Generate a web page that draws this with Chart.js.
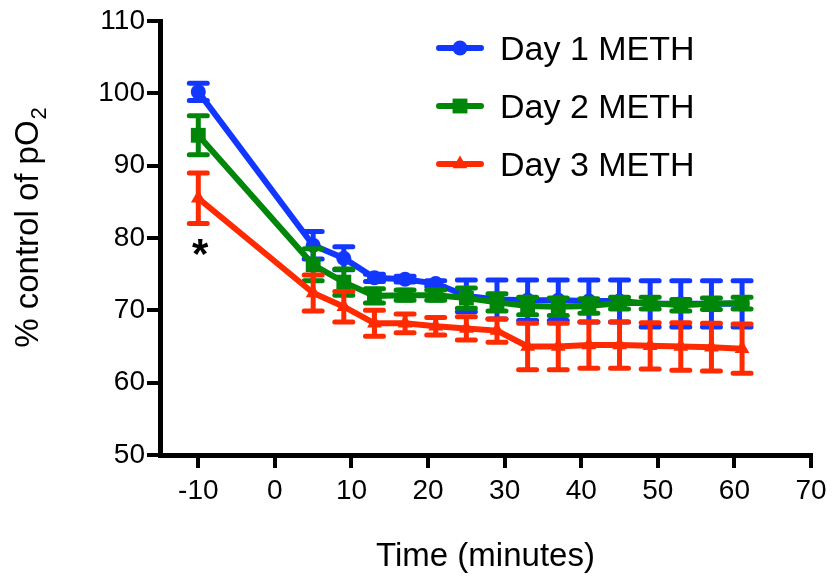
<!DOCTYPE html>
<html>
<head>
<meta charset="utf-8">
<title>pO2 after METH</title>
<script src="https://cdn.jsdelivr.net/npm/chart.js@4.4.1/dist/chart.umd.min.js"></script>
<style>
  html, body { margin: 0; padding: 0; background: #fff; }
  #wrap { width: 836px; height: 587px; }
</style>
</head>
<body>
<div id="wrap"><canvas id="po2Chart" width="836" height="587"></canvas></div>
<script>
// sampling times (minutes relative to injection)
const minutes = [-10, 5, 9, 13, 17, 21, 25, 29, 33, 37, 41, 45, 49, 53, 57, 61];

// % of control pO2, mean and SEM per day
const day1Mean = [100.2, 79.0, 77.2, 74.5, 74.3, 73.7, 72.0, 71.5, 71.4, 71.4, 71.3, 71.3, 70.9, 70.9, 70.9, 70.9];
const day1Sem  = [1.2, 1.9, 1.6, 0.5, 0.4, 0.4, 2.2, 2.7, 2.8, 2.8, 2.9, 2.9, 3.2, 3.2, 3.2, 3.2];
const day2Mean = [94.2, 76.3, 73.9, 72.0, 72.1, 72.1, 71.7, 71.1, 70.6, 70.5, 70.6, 71.0, 71.0, 70.7, 70.9, 71.0];
const day2Sem  = [2.7, 2.2, 1.8, 1.0, 0.7, 0.7, 1.4, 1.2, 1.2, 1.2, 1.0, 0.8, 0.8, 0.8, 0.8, 0.8];
const day3Mean = [85.5, 72.4, 70.5, 68.2, 68.2, 67.8, 67.5, 67.2, 65.0, 65.0, 65.2, 65.2, 65.1, 65.0, 64.9, 64.7];
const day3Sem  = [3.5, 2.5, 2.1, 1.8, 1.3, 1.2, 1.6, 1.6, 3.2, 3.2, 3.2, 3.2, 3.2, 3.3, 3.3, 3.4];

const seriesLabels = ['Day 1 METH', 'Day 2 METH', 'Day 3 METH'];
const xTickValues = [-10, 0, 10, 20, 30, 40, 50, 60, 70];
const yTickValues = [50, 60, 70, 80, 90, 100, 110];

// significance mark under the day 3 baseline point
const sigMark = { x: -10, y: 78.8, text: '*' };

const FONT = '"Liberation Sans", Arial, sans-serif';
const means = [day1Mean, day2Mean, day3Mean];
const sems = [day1Sem, day2Sem, day3Sem];

function series(i, color, pointStyle, radius, order) {
  return {
    label: seriesLabels[i],
    data: minutes.map((m, k) => ({ x: m, y: means[i][k] })),
    borderColor: color,
    backgroundColor: color,
    borderWidth: 6,
    pointStyle: pointStyle,
    pointRadius: radius,
    pointHoverRadius: radius,
    pointBorderWidth: 0,
    tension: 0,
    clip: false,
    order: order
  };
}

// vertical SEM bars with caps, drawn just under each dataset's own line
const errorBars = {
  id: 'errorBars',
  beforeDatasetDraw(chart, args) {
    const i = args.index;
    const { ctx, scales: { x, y } } = chart;
    ctx.save();
    ctx.strokeStyle = chart.data.datasets[i].borderColor;
    ctx.lineWidth = 5;
    ctx.lineCap = 'round';
    minutes.forEach((m, k) => {
      const px = x.getPixelForValue(m);
      const top = y.getPixelForValue(means[i][k] + sems[i][k]);
      const bot = y.getPixelForValue(means[i][k] - sems[i][k]);
      ctx.beginPath();
      ctx.moveTo(px, top); ctx.lineTo(px, bot);
      ctx.moveTo(px - 9, top); ctx.lineTo(px + 9, top);
      ctx.moveTo(px - 9, bot); ctx.lineTo(px + 9, bot);
      ctx.stroke();
    });
    ctx.restore();
  }
};

// legend with line + marker, y title with subscript, and the asterisk
const extras = {
  id: 'extras',
  afterDraw(chart) {
    const { ctx, scales: { x, y } } = chart;

    chart.data.datasets.forEach((ds, i) => {
      const rowY = 48 + i * 58;
      ctx.save();
      ctx.strokeStyle = ds.borderColor;
      ctx.fillStyle = ds.borderColor;
      ctx.lineWidth = 6;
      ctx.lineCap = 'round';
      ctx.beginPath();
      ctx.moveTo(439, rowY);
      ctx.lineTo(481, rowY);
      ctx.stroke();
      Chart.helpers.drawPoint(ctx, { pointStyle: ds.pointStyle, radius: ds.pointRadius, rotation: 0, borderWidth: 0 }, 460, rowY);
      ctx.fillStyle = '#000';
      ctx.font = '34px ' + FONT;
      ctx.textBaseline = 'alphabetic';
      ctx.textAlign = 'left';
      ctx.fillText(ds.label, 500, rowY + 12);
      ctx.restore();
    });

    // y axis title: "% control of pO" + subscript 2
    ctx.save();
    ctx.translate(0, 228);
    ctx.rotate(-Math.PI / 2);
    ctx.fillStyle = '#000';
    ctx.textBaseline = 'alphabetic';
    ctx.textAlign = 'left';
    const main = '% control of pO';
    ctx.font = '33px ' + FONT;
    const w1 = ctx.measureText(main).width;
    ctx.font = '22px ' + FONT;
    const w2 = ctx.measureText('2').width;
    const start = -(w1 + w2) / 2;
    ctx.font = '33px ' + FONT;
    ctx.fillText(main, start, 38);
    ctx.font = '22px ' + FONT;
    ctx.fillText('2', start + w1 + 1, 46);
    ctx.restore();

    // asterisk
    ctx.save();
    ctx.fillStyle = '#000';
    ctx.font = 'bold 42px ' + FONT;
    ctx.textAlign = 'center';
    ctx.textBaseline = 'alphabetic';
    const mt = ctx.measureText(sigMark.text);
    const cy = y.getPixelForValue(sigMark.y);
    ctx.fillText(sigMark.text, x.getPixelForValue(sigMark.x) + 2, cy + (mt.actualBoundingBoxAscent - mt.actualBoundingBoxDescent) / 2);
    ctx.restore();
  }
};

const axisGrid = {
  drawOnChartArea: false,
  drawTicks: true,
  tickLength: 13,
  tickWidth: 4,
  tickColor: '#000',
  lineWidth: 4,
  color: '#000'
};

new Chart(document.getElementById('po2Chart').getContext('2d'), {
  type: 'line',
  data: {
    datasets: [
      series(0, '#1238ff', 'circle', 7.5, 3),
      series(1, '#00870a', 'rect', 10.5, 2),
      series(2, '#ff2a00', 'triangle', 8.5, 1)
    ]
  },
  options: {
    responsive: false,
    animation: false,
    events: [],
    layout: { padding: { top: 21, right: 25, left: 0, bottom: 0 } },
    plugins: {
      legend: { display: false },
      tooltip: { enabled: false }
    },
    scales: {
      x: {
        type: 'linear',
        min: -15,
        max: 70,
        afterBuildTicks: s => { s.ticks = xTickValues.map(v => ({ value: v })); },
        afterFit: s => { s.height = 132; },
        grid: axisGrid,
        border: { display: true, width: 5, color: '#000' },
        ticks: { color: '#000', font: { family: FONT, size: 28 }, padding: 6, maxRotation: 0, autoSkip: false },
        title: { display: true, text: 'Time (minutes)', color: '#000', font: { family: FONT, size: 33 }, padding: { top: 0, bottom: 10 } }
      },
      y: {
        min: 50,
        max: 110,
        afterBuildTicks: s => { s.ticks = yTickValues.map(v => ({ value: v })); },
        afterFit: s => { s.width = 160; },
        grid: axisGrid,
        border: { display: true, width: 5, color: '#000' },
        ticks: { color: '#000', font: { family: FONT, size: 28 }, padding: 2, autoSkip: false }
      }
    }
  },
  plugins: [errorBars, extras]
});
</script>
</body>
</html>
